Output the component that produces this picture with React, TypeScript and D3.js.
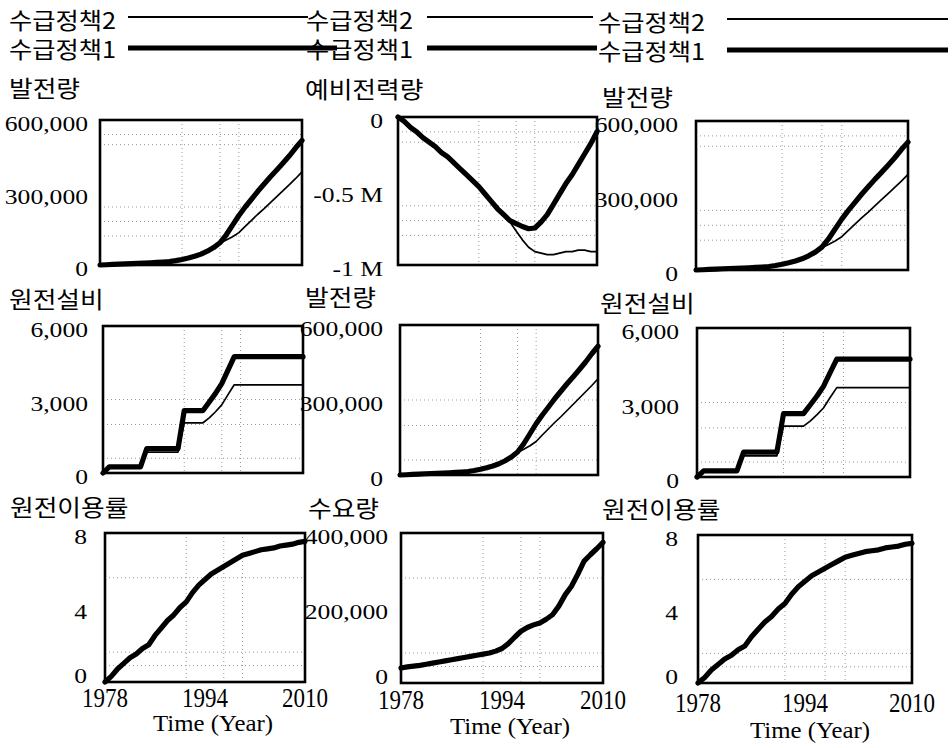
import React from 'react';
import * as d3 from 'd3';

const YEARS = [1978, 1979, 1980, 1981, 1982, 1983, 1984, 1985, 1986, 1987, 1988, 1989, 1990, 1991, 1992, 1993, 1994, 1995, 1996, 1997, 1998, 1999, 2000, 2001, 2002, 2003, 2004, 2005, 2006, 2007, 2008, 2009, 2010];
const X_TICK_YEARS = [1978, 1994, 2010];
const X_AXIS_TITLE = 'Time (Year)';
const POLICY_NAMES = ['수급정책2', '수급정책1'];

// 발전량
const GEN_P1 = [0, 1000, 2500, 3500, 5000, 6000, 7000, 8000, 9000, 10500, 12000, 14000, 18000, 23000, 29000, 36000, 45000, 57000, 72000, 92000, 125000, 165000, 205000, 240000, 272000, 305000, 335000, 365000, 393000, 422000, 452000, 485000, 515000];
const GEN_P2 = [0, 1000, 2500, 3500, 5000, 6000, 7000, 8000, 9000, 10500, 12000, 14000, 18000, 23000, 29000, 36000, 45000, 57000, 72000, 90000, 103000, 117000, 134000, 160000, 185000, 210000, 233000, 258000, 283000, 308000, 333000, 358000, 385000];
// 예비전력량
const RESERVE_P1 = [0, -30000, -70000, -100000, -140000, -170000, -200000, -240000, -270000, -310000, -350000, -390000, -430000, -470000, -520000, -570000, -620000, -660000, -700000, -720000, -740000, -755000, -750000, -710000, -660000, -590000, -520000, -450000, -390000, -320000, -250000, -180000, -100000];
const RESERVE_P2 = [0, -30000, -70000, -100000, -140000, -170000, -200000, -240000, -270000, -310000, -350000, -390000, -430000, -470000, -520000, -570000, -620000, -660000, -710000, -770000, -830000, -880000, -910000, -920000, -930000, -930000, -920000, -910000, -910000, -900000, -900000, -910000, -910000];
// 원전설비
const CAP_P1 = [0, 250, 250, 250, 250, 250, 250, 1000, 1000, 1000, 1000, 1000, 1000, 2550, 2550, 2550, 2550, 2900, 3250, 3650, 4200, 4750, 4750, 4750, 4750, 4750, 4750, 4750, 4750, 4750, 4750, 4750, 4750];
const CAP_P2 = [0, 200, 200, 200, 200, 200, 200, 850, 850, 850, 850, 850, 850, 2050, 2050, 2050, 2050, 2250, 2500, 2780, 3200, 3600, 3600, 3600, 3600, 3600, 3600, 3600, 3600, 3600, 3600, 3600, 3600];
// 원전이용률 (both policies identical)
const UTIL_P1 = [0, 0.3, 0.7, 1.0, 1.3, 1.5, 1.8, 2.0, 2.5, 2.9, 3.3, 3.6, 4.0, 4.3, 4.8, 5.2, 5.5, 5.8, 6.0, 6.2, 6.4, 6.6, 6.8, 6.9, 7.0, 7.1, 7.15, 7.2, 7.3, 7.35, 7.4, 7.5, 7.55];
const UTIL_P2 = UTIL_P1;
// 수요량 (both policies identical)
const DEMAND_P1 = [40000, 43000, 45000, 47000, 50000, 53000, 56000, 59000, 62000, 65000, 68000, 71000, 74000, 77000, 80000, 85000, 92000, 105000, 122000, 138000, 148000, 155000, 160000, 170000, 182000, 205000, 235000, 258000, 290000, 325000, 342000, 358000, 375000];
const DEMAND_P2 = DEMAND_P1;

const GEN_TICKS = [0, 300000, 600000];
const GEN_TICK_LABELS = ['0', '300,000', '600,000'];
const RESERVE_TICKS = [-1000000, -500000, 0];
const RESERVE_TICK_LABELS = ['-1 M', '-0.5 M', '0'];
const CAP_TICKS = [0, 3000, 6000];
const CAP_TICK_LABELS = ['0', '3,000', '6,000'];
const UTIL_TICKS = [0, 4, 8];
const UTIL_TICK_LABELS = ['0', '4', '8'];
const DEMAND_TICKS = [0, 200000, 400000];
const DEMAND_TICK_LABELS = ['0', '200,000', '400,000'];

const SERIF = '"Liberation Serif", "Times New Roman", serif';
const KR = '"Noto Sans CJK KR", sans-serif';

type Panel = {
  title: string;
  ticks: number[];
  labels: string[];
  thin: number[];
  thick: number[];
  box: [number, number, number, number];
  titlePos: [number, number];
  labelRight: number;
  hgrid: number[];
  bottom?: { yearBase: number; titleX: number; titleBase: number };
};

const VGRID_YEARS = [1991, 1997, 2000];
const ROW1_GRID = [0.2, 0.3, 0.4, 0.83, 0.9];
const ROW2_GRID = [0.1, 0.33, 0.5];
const ROW3_GRID = [0.11, 0.2, 0.7];

const PANELS: Panel[] = [
  { title: '발전량', ticks: GEN_TICKS, labels: GEN_TICK_LABELS, thin: GEN_P2, thick: GEN_P1, box: [100, 120, 302, 265], titlePos: [9, 87], labelRight: 88, hgrid: ROW1_GRID },
  { title: '예비전력량', ticks: RESERVE_TICKS, labels: RESERVE_TICK_LABELS, thin: RESERVE_P2, thick: RESERVE_P1, box: [398, 117, 597, 265], titlePos: [305, 88], labelRight: 383, hgrid: ROW1_GRID },
  { title: '발전량', ticks: GEN_TICKS, labels: GEN_TICK_LABELS, thin: GEN_P2, thick: GEN_P1, box: [696, 121, 908, 270], titlePos: [602, 96], labelRight: 678, hgrid: ROW1_GRID },
  { title: '원전설비', ticks: CAP_TICKS, labels: CAP_TICK_LABELS, thin: CAP_P2, thick: CAP_P1, box: [103, 326, 303, 473], titlePos: [9, 298], labelRight: 88, hgrid: ROW2_GRID },
  { title: '발전량', ticks: GEN_TICKS, labels: GEN_TICK_LABELS, thin: GEN_P2, thick: GEN_P1, box: [400, 325, 598, 475], titlePos: [305, 296], labelRight: 383, hgrid: ROW2_GRID },
  { title: '원전설비', ticks: CAP_TICKS, labels: CAP_TICK_LABELS, thin: CAP_P2, thick: CAP_P1, box: [697, 328, 910, 477], titlePos: [600, 302], labelRight: 679, hgrid: ROW2_GRID },
  { title: '원전이용률', ticks: UTIL_TICKS, labels: UTIL_TICK_LABELS, thin: UTIL_P2, thick: UTIL_P1, box: [105, 533, 305, 682], titlePos: [10, 506], labelRight: 87, hgrid: ROW3_GRID, bottom: { yearBase: 707, titleX: 213, titleBase: 731 } },
  { title: '수요량', ticks: DEMAND_TICKS, labels: DEMAND_TICK_LABELS, thin: DEMAND_P2, thick: DEMAND_P1, box: [401, 533, 603, 683], titlePos: [308, 507], labelRight: 388, hgrid: ROW3_GRID, bottom: { yearBase: 709, titleX: 510, titleBase: 734 } },
  { title: '원전이용률', ticks: UTIL_TICKS, labels: UTIL_TICK_LABELS, thin: UTIL_P2, thick: UTIL_P1, box: [698, 535, 912, 683], titlePos: [602, 508], labelRight: 678, hgrid: ROW3_GRID, bottom: { yearBase: 712, titleX: 810, titleBase: 738 } },
];

const LEGENDS = [
  { x: 9, y2: 19, y1: 48, l0: 128, l1: 308, l1t: 337 },
  { x: 306, y2: 19, y1: 48, l0: 427, l1: 593, l1t: 597 },
  { x: 598, y2: 21, y1: 50, l0: 727, l1: 948, l1t: 948 },
];

function STxt({ x, y, size, sx = 1, sy = 1, anchor = 'start', family = SERIF, baseline, children }: any) {
  return (
    <text transform={`translate(${x},${y}) scale(${sx},${sy})`} fontSize={size} fontFamily={family} textAnchor={anchor} dominantBaseline={baseline} fill="#000">
      {children}
    </text>
  );
}

function PanelView({ p }: { p: Panel }) {
  const [x0, y0, x1, y1] = p.box;
  const x = d3.scaleLinear().domain([YEARS[0], YEARS[YEARS.length - 1]]).range([x0, x1]);
  const y = d3.scaleLinear().domain([p.ticks[0], p.ticks[p.ticks.length - 1]]).range([y1, y0]);
  const line = d3.line<number>().x((_, i) => x(YEARS[i])).y((v) => y(v));
  const dom = y.domain();
  return (
    <g>
      {VGRID_YEARS.map((yr) => (
        <line key={'v' + yr} x1={x(yr)} x2={x(yr)} y1={y0} y2={y1} stroke="#999" strokeWidth={1} strokeDasharray="1 3" />
      ))}
      {p.hgrid.map((f) => {
        const yy = y(dom[0] + f * (dom[1] - dom[0]));
        return <line key={'h' + f} x1={x0} x2={x1} y1={yy} y2={yy} stroke="#999" strokeWidth={1} strokeDasharray="1 3" />;
      })}
      <path d={line(p.thin) || ''} fill="none" stroke="#000" strokeWidth={1.7} strokeLinejoin="round" />
      <path d={line(p.thick) || ''} fill="none" stroke="#000" strokeWidth={5.2} strokeLinejoin="round" strokeLinecap="round" />
      <rect x={x0} y={y0} width={x1 - x0} height={y1 - y0} fill="none" stroke="#000" strokeWidth={2.6} />
      {p.ticks.map((t, i) => {
        const isBottomZero = !!p.bottom && i === 0;
        return (
          <STxt key={'t' + i} x={p.labelRight} y={isBottomZero ? y(t) + 1 : y(t) + 11} size={21} sx={1.22} anchor="end">
            {p.labels[i]}
          </STxt>
        );
      })}
      <STxt x={p.titlePos[0]} y={p.titlePos[1]} size={23} sx={1.12} family={KR} baseline="central">
        {p.title}
      </STxt>
      {p.bottom && (
        <g>
          {X_TICK_YEARS.map((yr) => (
            <STxt key={yr} x={x(yr)} y={p.bottom!.yearBase} size={24} sx={0.96} sy={1.12} anchor="middle">
              {String(yr)}
            </STxt>
          ))}
          <STxt x={p.bottom.titleX} y={p.bottom.titleBase} size={23} sx={1.08} anchor="middle">
            {X_AXIS_TITLE}
          </STxt>
        </g>
      )}
    </g>
  );
}

export default function App() {
  return (
    <svg width={952} height={748} style={{ display: 'block', position: 'absolute', left: 0, top: 0, background: '#fff' }}>
      <rect x={0} y={0} width={952} height={748} fill="#fff" />
      {LEGENDS.map((l, i) => (
        <g key={i}>
          <line x1={l.l0} x2={l.l1} y1={l.y2 - 2} y2={l.y2 - 2} stroke="#000" strokeWidth={2} />
          <line x1={l.l0} x2={l.l1t} y1={l.y1} y2={l.y1} stroke="#000" strokeWidth={5} />
          <STxt x={l.x} y={l.y2} size={23} sx={1.1} family={KR} baseline="central">{POLICY_NAMES[0]}</STxt>
          <STxt x={l.x} y={l.y1} size={23} sx={1.1} family={KR} baseline="central">{POLICY_NAMES[1]}</STxt>
        </g>
      ))}
      {PANELS.map((p, i) => (
        <PanelView key={i} p={p} />
      ))}
    </svg>
  );
}
